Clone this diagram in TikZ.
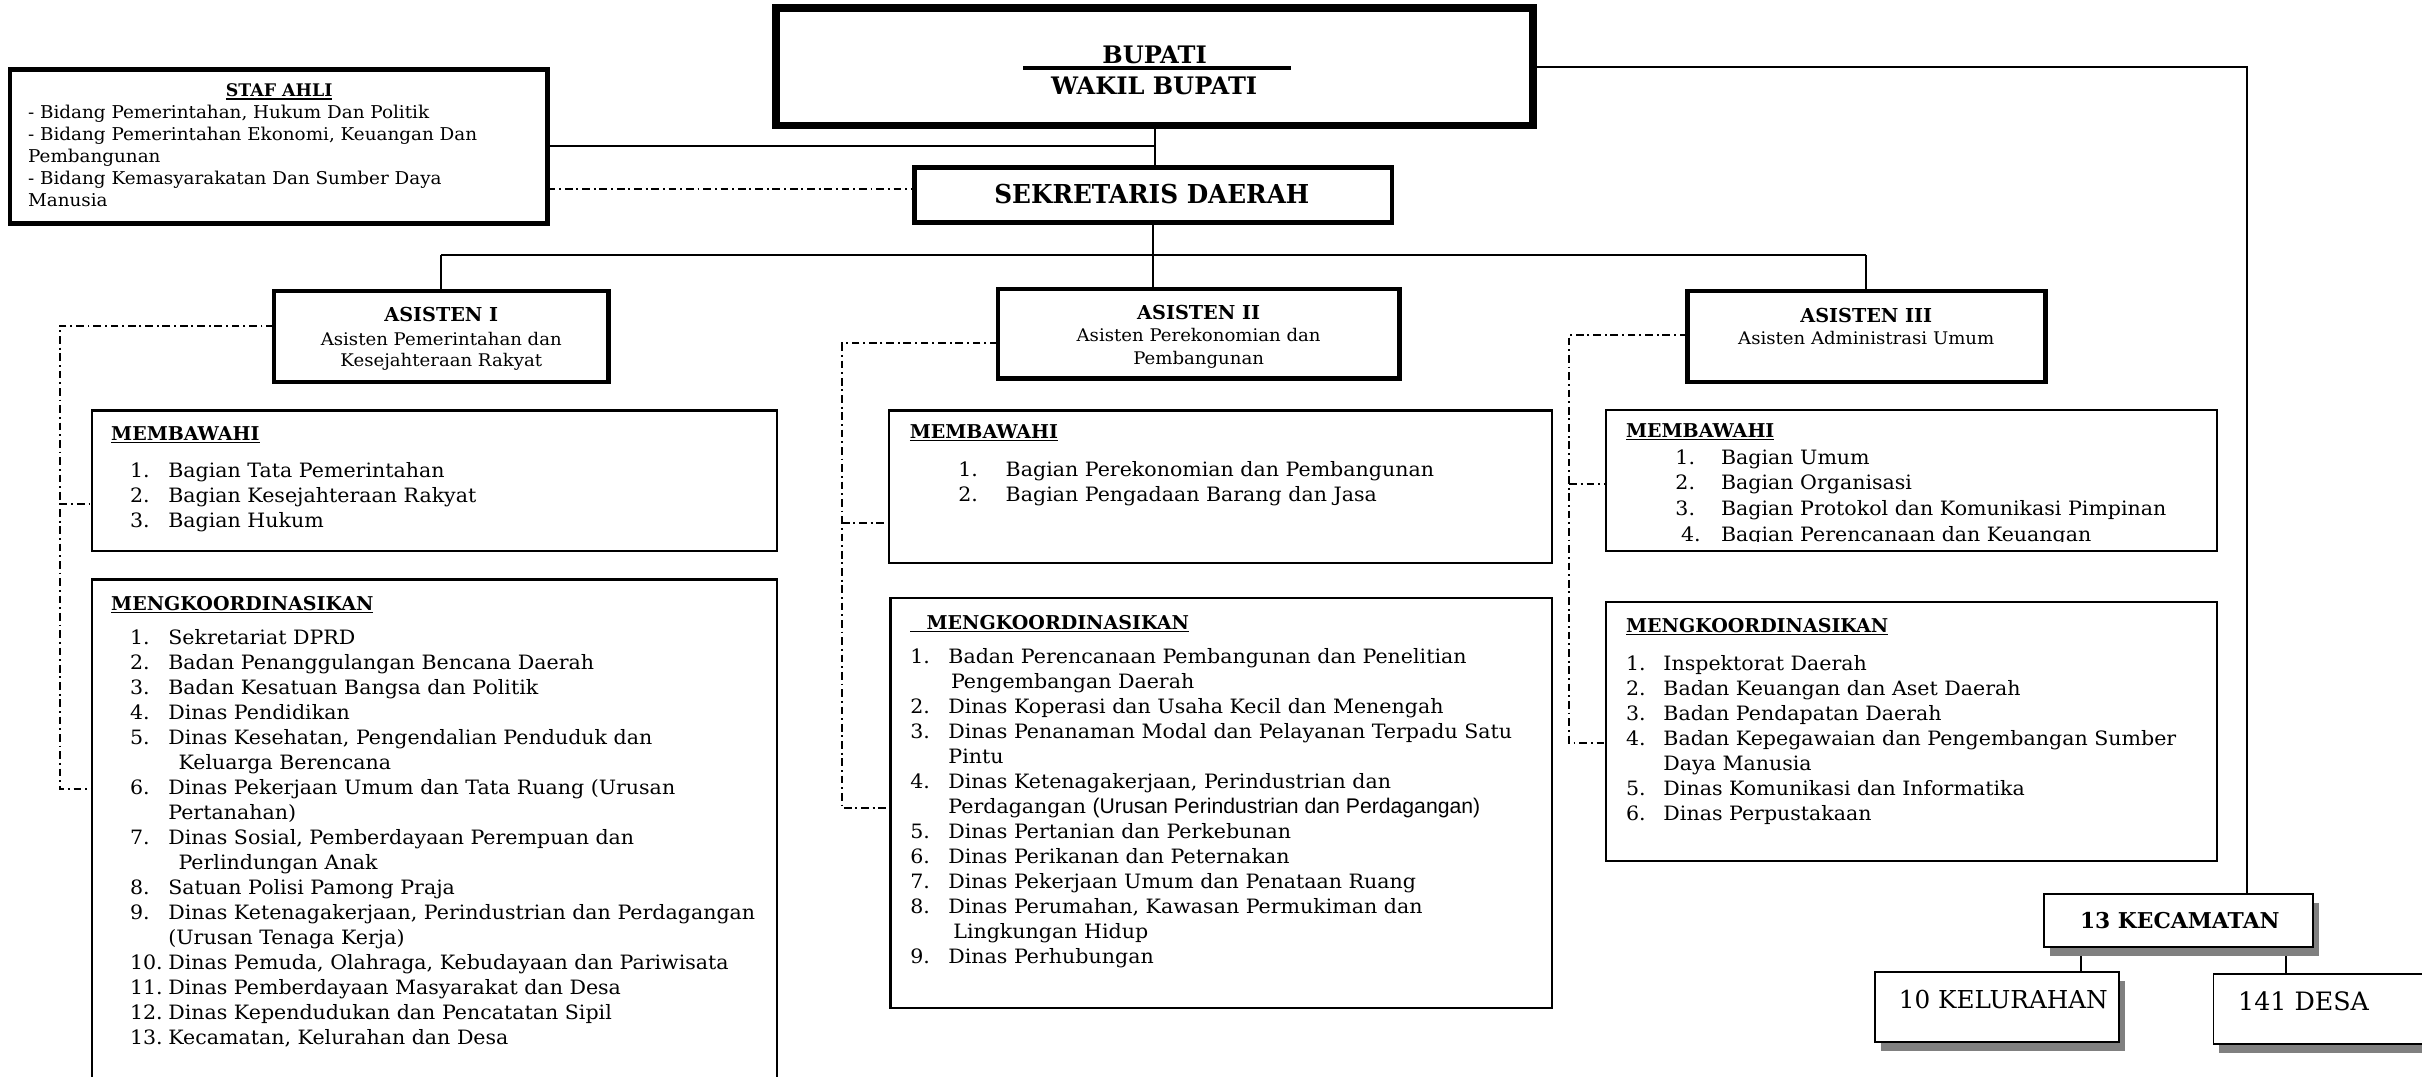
\documentclass[tikz,border=0pt]{standalone}
\usepackage{fontspec}
\setmainfont{DejaVu Serif}[FakeStretch=1.04]
\newfontfamily\nserif{DejaVu Serif}
\newfontfamily\cserif{DejaVu Serif}[FakeStretch=0.95]
\newfontfamily\sansf{Liberation Sans}
\usetikzlibrary{shadows}
\pgfdeclarelayer{background}
\pgfsetlayers{background,main}
\newcommand\calib[3]{\setbox0\hbox{\normalfont\fontsize{10pt}{12pt}\selectfont #2}\pgfmathsetmacro#1{10*#3/\the\wd0}}
\newcommand\fsz[1]{\fontsize{#1}{#1}\selectfont}
\newcommand\hul[1]{\setbox2\hbox{#1}\rlap{\rule[-1.9pt]{\wd2}{0.9pt}}\box2}
\tikzset{
  box/.style={draw, rectangle, fill=white, inner sep=0, outer sep=0, anchor=north west},
  shbox/.style={box, drop shadow={shadow xshift=3.6pt, shadow yshift=-5.6pt, fill=black!50, opacity=1}},
  cn/.style={line width=1.3},
  dd/.style={line width=1.3, dash pattern=on 5pt off 2.5pt on 1.2pt off 2.5pt},
  tx/.style={inner sep=0, outer sep=0, anchor=base west},
  lt/.style={tx, font=\fsz{\szL}},
  st/.style={tx, font=\fsz{\szS}},
  hd/.style={tx, font=\nserif\bfseries\fsz{\szH}},
  ttl/.style={tx, anchor=base, font=\nserif\bfseries\fsz{\szT}},
  sub/.style={tx, anchor=base, font=\fsz{\szA}},
}
\newcommand\bx[6]{\node[box, line width=#6, minimum width=#4-#2, minimum height=#5-#3] (#1) at (#2,#3) {};}
\newcommand\bxs[6]{\node[shbox, line width=#6, minimum width=#4-#2, minimum height=#5-#3] (#1) at (#2,#3) {};}
\newcommand\lst[4]{%
  \foreach \nx/\nn/\xx/\tx [count=\ii from 0] in {#4}{%
    \pgfmathsetmacro\yy{#2+#3*\ii}%
    \node[lt] (#1n\ii) at (\nx,\yy) {\nn};
    \node[lt] (#1t\ii) at (\xx,\yy) {\tx};}}
\begin{document}
\calib\szL{Dinas Ketenagakerjaan, Perindustrian dan Perdagangan}{379.9}%
\calib\szS{- Bidang Pemerintahan Ekonomi, Keuangan Dan}{290.7}%
\calib\szA{Asisten Pemerintahan dan}{156}%
\calib\szH{\nserif\bfseries MENGKOORDINASIKAN}{169.8}%
\calib\szT{\nserif\bfseries ASISTEN I}{73.7}%
\calib\szSA{\nserif\bfseries STAF AHLI}{69}%
\calib\szB{\nserif\bfseries WAKIL BUPATI}{133.4}%
\calib\szSek{\cserif\bfseries SEKRETARIS DAERAH}{204}%
\calib\szKec{\nserif\bfseries 13 KECAMATAN}{129.2}%
\calib\szKel{\nserif 10 KELURAHAN}{135.3}%
\calib\szDesa{\nserif 141 DESA}{84.7}%
\calib\szSans{\sansf (Urusan Perindustrian dan Perdagangan)}{251}%
\begin{tikzpicture}[x=1pt,y=-1pt]
\begin{pgfonlayer}{background}
\fill[white] (0,0) rectangle (1568,697);
\end{pgfonlayer}
\useasboundingbox (0,0) rectangle (1568,697);

% boxes
\bx{bup}{502.6}{5.4}{992.4}{81.2}{5}
\bx{staf}{6.5}{44.8}{354.5}{144.7}{3}
\bx{sek}{592.1}{108.4}{901.1}{144.1}{3}
\bx{a1}{177.4}{188.5}{394}{247.2}{2.8}
\bx{a2}{645.9}{187}{906.1}{245.1}{2.8}
\bx{a3}{1092.4}{188.5}{1324.3}{247.2}{2.8}
\bx{m1}{59.5}{265.7}{503}{356.5}{1.5}
\bx{k1}{59.5}{375.1}{503}{720}{1.5}
\bx{m2}{575.5}{265.7}{1004.7}{364.6}{1.5}
\bx{k2}{576.5}{387}{1004.7}{652.5}{1.5}
\bx{m3}{1039.8}{265.4}{1435.3}{356.5}{1.5}
\bx{k3}{1039.8}{389.6}{1435.3}{557.5}{1.5}
\bxs{kec}{1323.5}{579}{1497.6}{613.3}{1.2}
\bxs{kel}{1214}{629.5}{1372}{674.6}{1.2}
\bxs{desa}{1433}{630.7}{1590}{676}{1.2}

% connectors
\begin{pgfonlayer}{background}
\coordinate (rc) at (1454.4,43.3);
\coordinate (hb) at (0,165.1);
\coordinate (kl) at (1347,0);
\coordinate (ds) at (1480,0);
\coordinate (d1) at (38.6,511);
\coordinate (d2) at (545,523.3);
\coordinate (d3) at (1016,481);
\draw[cn] (bup.south) -- (bup.south |- sek.north);
\draw[cn] (staf.east) -- (staf.east -| bup.south);
\draw[cn] (sek.south) -- (sek.south |- a2.north);
\draw[cn] (a1.north |- hb) -- (a3.north |- hb);
\draw[cn] (a1.north |- hb) -- (a1.north);
\draw[cn] (a3.north |- hb) -- (a3.north);
\draw[cn] (bup.east) -- (bup.east -| rc) -- (rc |- kec.north);
\draw[cn] (kec.south -| kl) -- (kel.north -| kl);
\draw[cn] (kec.south -| ds) -- (desa.north -| ds);
\draw[dd] (staf.east |- 0,122.4) -- (sek.west |- 0,122.4);
\draw[dd] (a1.west |- 0,210.8) -| (d1) -- (d1 -| k1.west);
\draw[dd] (d1 |- 0,326.5) -- (m1.west |- 0,326.5);
\draw[dd] (a2.west |- 0,222.3) -| (d2) -- (d2 -| k2.west);
\draw[dd] (d2 |- 0,338.8) -- (m2.west |- 0,338.8);
\draw[dd] (a3.west |- 0,216.6) -| (d3) -- (d3 -| k3.west);
\draw[dd] (d3 |- 0,313.3) -- (m3.west |- 0,313.3);
\end{pgfonlayer}

% top texts
\node[tx, anchor=base, font=\nserif\bfseries\fsz{\szB}] (bt1) at (749.2,41)
  {\hbox to 173.3pt{\hss BUPATI\hskip3.4pt\hss}\llap{\rule[-4pt]{173.3pt}{2.4pt}}};
\node[tx, anchor=base, font=\nserif\bfseries\fsz{\szB}] (bt2) at (747.2,61.1) {WAKIL BUPATI};
\node[tx, anchor=base, font=\cserif\bfseries\fsz{\szSek}] (sekt) at (745.7,131.8) {SEKRETARIS DAERAH};
\node[tx, anchor=base, font=\nserif\bfseries\fsz{\szSA}] (sft) at (180.7,62.6) {\hul{STAF AHLI}};
\node[st] (sf1) at (18.2,77) {- Bidang Pemerintahan, Hukum Dan Politik};
\node[st] (sf2) at (18.2,91.1) {- Bidang Pemerintahan Ekonomi, Keuangan Dan};
\node[st] (sf3) at (18.2,105.2) {Pembangunan};
\node[st] (sf4) at (18.2,119.3) {- Bidang Kemasyarakatan Dan Sumber Daya};
\node[st] (sf5) at (18.2,133.4) {Manusia};

% asisten
\node[ttl] (a1t) at (285.7,208.3) {ASISTEN I};
\node[sub] (a1s1) at (285.7,223.4) {Asisten Pemerintahan dan};
\node[sub] (a1s2) at (285.7,237) {Kesejahteraan Rakyat};
\node[ttl] (a2t) at (776,206.7) {ASISTEN II};
\node[sub] (a2s1) at (776,221.4) {Asisten Perekonomian dan};
\node[sub] (a2s2) at (776,235.7) {Pembangunan};
\node[ttl] (a3t) at (1208.2,208.5) {ASISTEN III};
\node[sub] (a3s1) at (1208.2,223.1) {Asisten Administrasi Umum};

% headings
\node[hd] (m1h) at (72,284.9) {\hul{MEMBAWAHI}};
\node[hd] (k1h) at (72,395) {\hul{MENGKOORDINASIKAN}};
\node[hd] (m2h) at (589,283.8) {\hul{MEMBAWAHI}};
\node[hd] (k2h) at (589.3,407.4) {\hul{\hspace{10.6pt}MENGKOORDINASIKAN}};
\node[hd] (m3h) at (1052.7,283.2) {\hul{MEMBAWAHI}};
\node[hd] (k3h) at (1052.7,409.2) {\hul{MENGKOORDINASIKAN}};

% lists
\lst{ma}{309}{16.2}{84.2/1./109/Bagian Tata Pemerintahan,
  84.2/2./109/Bagian Kesejahteraan Rakyat,
  84.2/3./109/Bagian Hukum}
\lst{ka}{417}{16.19}{84.2/1./109/Sekretariat DPRD,
  84.2/2./109/Badan Penanggulangan Bencana Daerah,
  84.2/3./109/Badan Kesatuan Bangsa dan Politik,
  84.2/4./109/Dinas Pendidikan,
  84.2/5./109/{Dinas Kesehatan, Pengendalian Penduduk dan},
  84.2/{}/115.6/Keluarga Berencana,
  84.2/6./109/Dinas Pekerjaan Umum dan Tata Ruang (Urusan,
  84.2/{}/109/Pertanahan),
  84.2/7./109/{Dinas Sosial, Pemberdayaan Perempuan dan},
  84.2/{}/115.6/Perlindungan Anak,
  84.2/8./109/Satuan Polisi Pamong Praja,
  84.2/9./109/{Dinas Ketenagakerjaan, Perindustrian dan Perdagangan},
  84.2/{}/109/(Urusan Tenaga Kerja),
  84.2/10./109/{Dinas Pemuda, Olahraga, Kebudayaan dan Pariwisata},
  84.2/11./109/Dinas Pemberdayaan Masyarakat dan Desa,
  84.2/12./109/Dinas Kependudukan dan Pencatatan Sipil,
  84.2/13./109/{Kecamatan, Kelurahan dan Desa}}
\lst{mb}{308.6}{16.2}{620.4/1./651.1/Bagian Perekonomian dan Pembangunan,
  620.4/2./651.1/Bagian Pengadaan Barang dan Jasa}
\lst{kb}{429.5}{16.19}{589.3/1./614/Badan Perencanaan Pembangunan dan Penelitian,
  589.3/{}/615.7/Pengembangan Daerah,
  589.3/2./614/Dinas Koperasi dan Usaha Kecil dan Menengah,
  589.3/3./614/Dinas Penanaman Modal dan Pelayanan Terpadu Satu,
  589.3/{}/614/Pintu,
  589.3/4./614/{Dinas Ketenagakerjaan, Perindustrian dan},
  589.3/{}/614/{Perdagangan {\sansf\fsz{\szSans}(Urusan Perindustrian dan Perdagangan)}},
  589.3/5./614/Dinas Pertanian dan Perkebunan,
  589.3/6./614/Dinas Perikanan dan Peternakan,
  589.3/7./614/Dinas Pekerjaan Umum dan Penataan Ruang,
  589.3/8./614/{Dinas Perumahan, Kawasan Permukiman dan},
  589.3/{}/617.2/Lingkungan Hidup,
  589.3/9./614/Dinas Perhubungan}
\begin{scope}
\clip (1039,265) rectangle (1436,350.6);
\lst{mc}{300.6}{16.6}{1084.7/1./1114.2/Bagian Umum,
  1084.7/2./1114.2/Bagian Organisasi,
  1084.7/3./1114.2/Bagian Protokol dan Komunikasi Pimpinan,
  1088.3/4./1114.2/Bagian Perencanaan dan Keuangan}
\end{scope}
\lst{kc}{434.2}{16.19}{1052.7/1./1076.9/Inspektorat Daerah,
  1052.7/2./1076.9/Badan Keuangan dan Aset Daerah,
  1052.7/3./1076.9/Badan Pendapatan Daerah,
  1052.7/4./1076.9/Badan Kepegawaian dan Pengembangan Sumber,
  1052.7/{}/1076.9/Daya Manusia,
  1052.7/5./1076.9/Dinas Komunikasi dan Informatika,
  1052.7/6./1076.9/Dinas Perpustakaan}

% bottom right
\node[tx, anchor=base, font=\nserif\bfseries\fsz{\szKec}] (kect) at (1411.2,601.4) {13 KECAMATAN};
\node[tx, font=\nserif\fsz{\szKel}] (kelt) at (1229.3,653.2) {10 KELURAHAN};
\node[tx, font=\nserif\fsz{\szDesa}] (desat) at (1449,654.5) {141 DESA};
\end{tikzpicture}
\end{document}
